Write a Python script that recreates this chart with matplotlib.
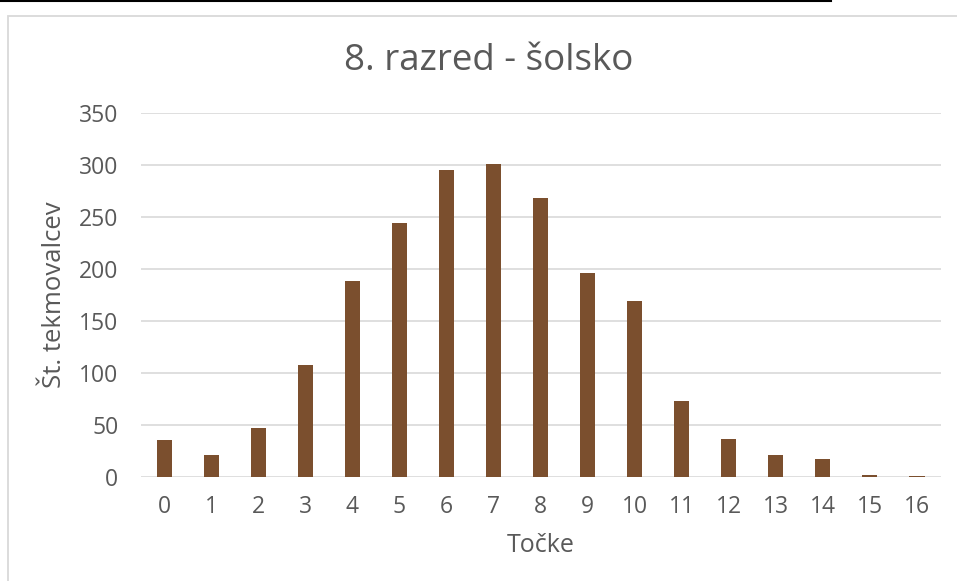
import matplotlib.pyplot as plt
from matplotlib.patches import Rectangle
from matplotlib.lines import Line2D

# Podatki
tocke = [str(i) for i in range(17)]
st_tekmovalcev = [35, 21, 47, 107, 188, 244, 295, 301, 268, 196, 169, 73, 36, 21, 17, 2, 0.4]

naslov = '8. razred - šolsko'
x_oznaka = 'Točke'
y_oznaka = 'Št. tekmovalcev'

plt.rcParams['font.family'] = ['Open Sans', 'DejaVu Sans']
siva = '#595959'

fig = plt.figure(figsize=(9.57, 5.81), dpi=100)
W, H = 957, 581

# Os grafa
ax = fig.add_axes([140.5 / W, 1 - 476.7 / H, 800 / W, 364 / H])
x = range(len(tocke))
ax.bar(x, st_tekmovalcev, width=0.32, color='#7B4F2E', zorder=3)

ax.set_xlim(-0.5, len(tocke) - 0.5)
ax.set_ylim(0, 350)
ax.set_yticks(range(0, 351, 50))
ax.set_xticks(list(x))
ax.set_xticklabels(tocke)

ax.grid(axis='y', color='#D9D9D9', linewidth=1.2, zorder=0)
for s in ax.spines.values():
    s.set_visible(False)
ax.tick_params(axis='both', length=0, labelsize=16.5, labelcolor=siva)
ax.tick_params(axis='y', pad=16)
ax.tick_params(axis='x', pad=13)

# Besedila
fig.text(489 / W, 1 - 61 / H, naslov, ha='center', va='center', fontsize=26.5, color=siva)
fig.text(540.5 / W, 1 - 545 / H, x_oznaka, ha='center', va='center', fontsize=18, color=siva)
fig.text(55 / W, 1 - 295 / H, y_oznaka, ha='center', va='center', rotation=90, fontsize=18.5, color=siva)

# Okvir grafa in črta zgoraj
fig.add_artist(Rectangle((8 / W, -0.1), 2, 1 - 16 / H + 0.1, transform=fig.transFigure,
                         fill=False, edgecolor='#D9D9D9', linewidth=1.3))
fig.add_artist(Line2D([0, 831 / W], [1 - 1 / H, 1 - 1 / H], transform=fig.transFigure,
                      color='black', linewidth=1.5))

fig.savefig('out.png', dpi=100)
